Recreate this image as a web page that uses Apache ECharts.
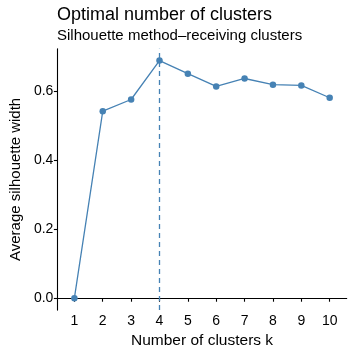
<!DOCTYPE html>
<html><head><meta charset="utf-8">
<script src="https://cdn.jsdelivr.net/npm/echarts@6/dist/echarts.min.js"></script>
<style>html,body{margin:0;padding:0;background:#fff}#c{width:354px;height:354px}</style>
</head><body><div id="c"></div>
<script>
var clustersK = [1, 2, 3, 4, 5, 6, 7, 8, 9, 10];
var silhouetteWidth = [0, 0.543, 0.577, 0.690, 0.652, 0.615, 0.638, 0.620, 0.618, 0.582];
var yTicks = [0.0, 0.2, 0.4, 0.6];
var optimalK = 4;

var color = '#4682B4';
var chart = echarts.init(document.getElementById('c'), null, {renderer: 'canvas'});
chart.setOption({
  animation: false,
  backgroundColor: '#fff',
  title: {
    text: 'Optimal number of clusters',
    subtext: 'Silhouette method\u2013receiving clusters',
    left: 52, top: 1, itemGap: 4,
    textStyle: {fontFamily: 'Liberation Sans', fontSize: 18, fontWeight: 'normal', color: '#000'},
    subtextStyle: {fontFamily: 'Liberation Sans', fontSize: 15, color: '#000'}
  },
  grid: {left: 55.3, right: 7.3, top: 48.7, bottom: 43.3, containLabel: false},
  xAxis: {
    type: 'value', min: 0.4, max: 10.6,
    name: 'Number of clusters k', nameLocation: 'middle', nameGap: 22,
    nameTextStyle: {fontFamily: 'Liberation Sans', fontSize: 15.5, color: '#000'},
    axisLine: {show: true, lineStyle: {color: '#000', width: 1.1}},
    axisTick: {show: true, length: 3.5, customValues: clustersK, lineStyle: {color: '#000', width: 1.1}},
    axisLabel: {customValues: clustersK, fontFamily: 'Liberation Sans', fontSize: 14, color: '#000', margin: 4},
    splitLine: {show: false}
  },
  yAxis: {
    type: 'value', min: -0.0345, max: 0.7245,
    name: 'Average silhouette width', nameLocation: 'middle', nameGap: 33,
    nameTextStyle: {fontFamily: 'Liberation Sans', fontSize: 15, color: '#000'},
    axisLine: {show: true, lineStyle: {color: '#000', width: 1.1}},
    axisTick: {show: true, length: 3.5, customValues: yTicks, lineStyle: {color: '#000', width: 1.1}},
    axisLabel: {customValues: yTicks, formatter: function(v){return v.toFixed(1);}, fontFamily: 'Liberation Sans', fontSize: 14, color: '#000', margin: 4},
    splitLine: {show: false}
  },
  series: [{
    type: 'line',
    data: clustersK.map(function(k, i){return [k, silhouetteWidth[i]];}),
    symbol: 'circle', symbolSize: 6.5,
    itemStyle: {color: color},
    lineStyle: {color: color, width: 1.3},
    markLine: {
      silent: true, symbol: 'none', label: {show: false},
      lineStyle: {color: color, type: [5, 4], width: 1.3},
      data: [{xAxis: optimalK}]
    }
  }]
});
</script></body></html>
